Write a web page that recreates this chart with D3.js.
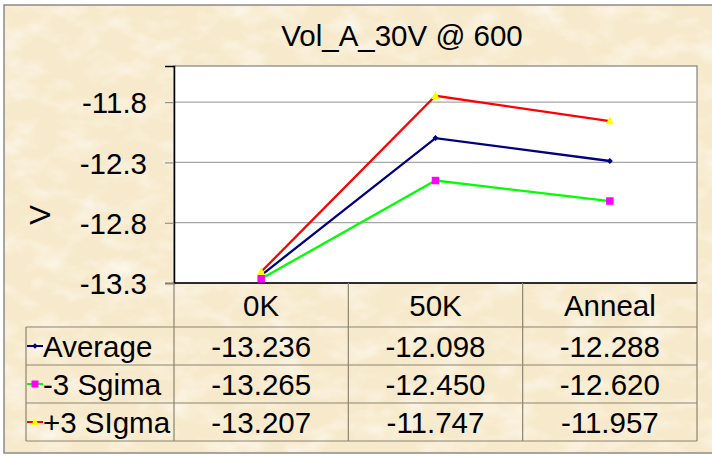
<!DOCTYPE html>
<html>
<head>
<meta charset="utf-8">
<script src="https://cdn.jsdelivr.net/npm/d3@7/dist/d3.min.js"></script>
<style>
  body { margin: 0; background: #fff; }
  svg { display: block; font-family: "Liberation Sans", Arial, sans-serif; }
</style>
</head>
<body>
<svg id="chart" width="712" height="456"></svg>
<script>
// data
var categories = ["0K", "50K", "Anneal"];
var seriesNames = ["Average", "-3 Sgima", "+3 SIgma"];
var average = [-13.236, -12.098, -12.288];
var minus3Sigma = [-13.265, -12.450, -12.620];
var plus3Sigma = [-13.207, -11.747, -11.957];
var yTicks = [-11.8, -12.3, -12.8, -13.3];
var chartTitle = "Vol_A_30V @ 600";
var yTitle = "V";

var FS = 29.5; // font size used everywhere

var series = [
  { name: seriesNames[0], values: average, line: "#000080", marker: "diamond", fill: "#000080" },
  { name: seriesNames[1], values: minus3Sigma, line: "#00ff00", marker: "square", fill: "#ff00ff" },
  { name: seriesNames[2], values: plus3Sigma, line: "#ff0000", marker: "triangle", fill: "#ffff00" }
];

var svg = d3.select("#chart");
var defs = svg.append("defs");

// parchment look
var f = defs.append("filter").attr("id", "paper").attr("x", 0).attr("y", 0).attr("width", 1).attr("height", 1);
f.append("feTurbulence").attr("type", "fractalNoise").attr("baseFrequency", "0.03 0.05")
  .attr("numOctaves", 3).attr("seed", 7).attr("result", "n");
f.append("feColorMatrix").attr("in", "n").attr("type", "matrix")
  .attr("values", "0 0 0 0 1  0 0 0 0 1  0 0 0 0 1  2.2 0 0 0 -1.0");

var frame = { x: 4, y: 5, w: 720, h: 448 };
svg.append("rect").attr("x", frame.x).attr("y", frame.y).attr("width", frame.w).attr("height", frame.h)
  .attr("fill", "#f7eacc");
svg.append("rect").attr("x", frame.x).attr("y", frame.y).attr("width", frame.w).attr("height", frame.h)
  .attr("filter", "url(#paper)").attr("opacity", 0.6);
svg.append("rect").attr("x", frame.x).attr("y", frame.y).attr("width", frame.w).attr("height", frame.h)
  .attr("fill", "none").attr("stroke", "#8a8a8a").attr("stroke-width", 1.5);

// plot area
var plot = { left: 174, right: 697, top: 66, bottom: 283 };
var x = d3.scaleBand().domain(categories).range([plot.left, plot.right]).padding(0);
var y = d3.scaleLinear().domain([-13.3, -11.5]).range([plot.bottom, plot.top]);

svg.append("rect").attr("x", plot.left).attr("y", plot.top)
  .attr("width", plot.right - plot.left).attr("height", plot.bottom - plot.top)
  .attr("fill", "#fff").attr("stroke", "#808080").attr("stroke-width", 1.2);

// gridlines
svg.append("g").selectAll("line").data(yTicks.filter(function(d) { return d !== -13.3; }))
  .join("line")
  .attr("x1", plot.left).attr("x2", plot.right)
  .attr("y1", function(d) { return y(d); }).attr("y2", function(d) { return y(d); })
  .attr("stroke", "#a6a6a6").attr("stroke-width", 1.3);

// y axis
var yAxis = svg.append("g").attr("transform", "translate(" + plot.left + ",0)")
  .call(d3.axisLeft(y).tickValues(yTicks).tickSize(9).tickPadding(18)
    .tickFormat(function(d) { return d.toFixed(1); }));
yAxis.select(".domain").attr("stroke", "#000").attr("stroke-width", 1.5);
yAxis.selectAll(".tick line").attr("stroke", "#808080");
yAxis.selectAll(".tick text").attr("font-size", FS).attr("fill", "#000")
  .attr("font-family", "Liberation Sans, Arial, sans-serif").attr("dy", "0.36em");

// x axis line
svg.append("line").attr("x1", plot.left).attr("x2", plot.right)
  .attr("y1", plot.bottom).attr("y2", plot.bottom).attr("stroke", "#000").attr("stroke-width", 1.5);

// title and axis title
svg.append("text").attr("x", 402).attr("y", 46).attr("text-anchor", "middle")
  .attr("font-size", FS).text(chartTitle);
svg.append("text").attr("transform", "translate(50,215) rotate(-90)").attr("text-anchor", "middle")
  .attr("font-size", FS).text(yTitle);

// series
var lineGen = d3.line()
  .x(function(d, i) { return x(categories[i]) + x.bandwidth() / 2; })
  .y(function(d) { return y(d); });

function drawMarker(g, type, fill, cx, cy, s) {
  if (type === "square") {
    g.append("rect").attr("x", cx - s / 2).attr("y", cy - s / 2).attr("width", s).attr("height", s).attr("fill", fill);
  } else if (type === "triangle") {
    g.append("path").attr("d", "M" + cx + "," + (cy - s * 0.6) + "L" + (cx + s / 2) + "," + (cy + s * 0.4) +
      "L" + (cx - s / 2) + "," + (cy + s * 0.4) + "Z").attr("fill", fill);
  } else {
    g.append("path").attr("d", "M" + cx + "," + (cy - s / 2) + "L" + (cx + s / 2) + "," + cy +
      "L" + cx + "," + (cy + s / 2) + "L" + (cx - s / 2) + "," + cy + "Z").attr("fill", fill);
  }
}

var markerSize = { diamond: 6, square: 7.5, triangle: 8 };

series.forEach(function(s) {
  var g = svg.append("g");
  g.append("path").datum(s.values).attr("d", lineGen).attr("fill", "none")
    .attr("stroke", s.line).attr("stroke-width", 2.3);
  s.values.forEach(function(v, i) {
    drawMarker(g, s.marker, s.fill, x(categories[i]) + x.bandwidth() / 2, y(v), markerSize[s.marker]);
  });
});

// data table
var tableLeft = 26, headerBottom = 327, rowH = 38;
var rowY = d3.scaleBand().domain(seriesNames).range([headerBottom, headerBottom + rowH * seriesNames.length]);
var gridColor = "#8c8470";
var tbl = svg.append("g");

// vertical lines
x.domain().concat(["__end"]).forEach(function(c, i) {
  var xx = i < categories.length ? x(c) : plot.right;
  tbl.append("line").attr("x1", xx).attr("x2", xx).attr("y1", plot.bottom)
    .attr("y2", headerBottom + rowH * seriesNames.length).attr("stroke", gridColor).attr("stroke-width", 1.2);
});
tbl.append("line").attr("x1", tableLeft).attr("x2", tableLeft).attr("y1", headerBottom)
  .attr("y2", headerBottom + rowH * seriesNames.length).attr("stroke", gridColor).attr("stroke-width", 1.2);
// horizontal lines
d3.range(seriesNames.length + 1).forEach(function(i) {
  var yy = headerBottom + i * rowH;
  tbl.append("line").attr("x1", tableLeft).attr("x2", plot.right).attr("y1", yy).attr("y2", yy)
    .attr("stroke", gridColor).attr("stroke-width", 1.2);
});

// header
tbl.selectAll("text.hdr").data(categories).join("text").attr("class", "hdr")
  .attr("x", function(d) { return x(d) + x.bandwidth() / 2; })
  .attr("y", 316).attr("text-anchor", "middle").attr("font-size", FS).text(function(d) { return d; });

// rows
series.forEach(function(s) {
  var cy = rowY(s.name) + rowY.bandwidth() / 2;
  tbl.append("line").attr("x1", 27).attr("x2", 43).attr("y1", cy).attr("y2", cy)
    .attr("stroke", s.line).attr("stroke-width", 2);
  drawMarker(tbl, s.marker, s.fill, 35, cy, markerSize[s.marker] - 0.5);
  tbl.append("text").attr("x", 43).attr("y", cy + 10.5).attr("font-size", FS).text(s.name);
  s.values.forEach(function(v, i) {
    tbl.append("text").attr("x", x(categories[i]) + x.bandwidth() / 2).attr("y", cy + 10.5)
      .attr("text-anchor", "middle").attr("font-size", FS).text(v.toFixed(3));
  });
});
</script>
</body>
</html>
